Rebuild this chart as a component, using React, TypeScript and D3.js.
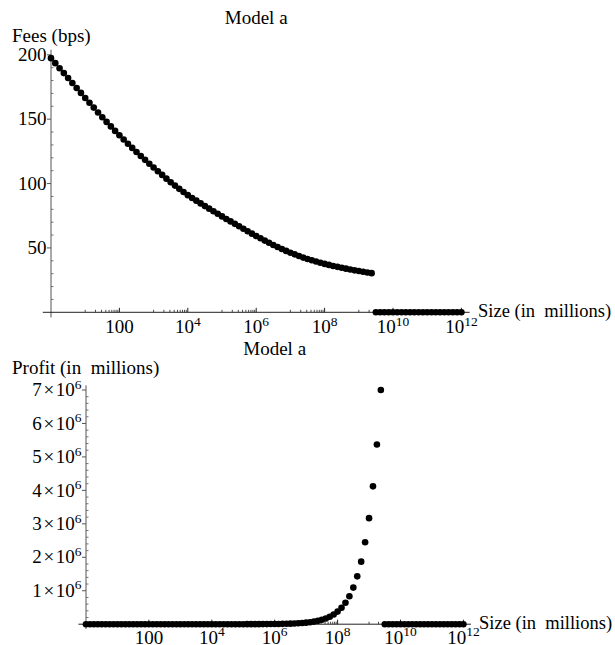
import React from 'react';
import * as d3 from 'd3';

// Fund size grid, as powers of ten (in millions)
const sizeExponents = [
  0, 0.125, 0.25, 0.375, 0.5, 0.625, 0.75, 0.875,
  1, 1.125, 1.25, 1.375, 1.5, 1.625, 1.75, 1.875,
  2, 2.125, 2.25, 2.375, 2.5, 2.625, 2.75, 2.875,
  3, 3.125, 3.25, 3.375, 3.5, 3.625, 3.75, 3.875,
  4, 4.125, 4.25, 4.375, 4.5, 4.625, 4.75, 4.875,
  5, 5.125, 5.25, 5.375, 5.5, 5.625, 5.75, 5.875,
  6, 6.125, 6.25, 6.375, 6.5, 6.625, 6.75, 6.875,
  7, 7.125, 7.25, 7.375, 7.5, 7.625, 7.75, 7.875,
  8, 8.125, 8.25, 8.375, 8.5, 8.625, 8.75, 8.875,
  9, 9.125, 9.25, 9.375, 9.5, 9.625, 9.75, 9.875,
  10, 10.125, 10.25, 10.375, 10.5, 10.625, 10.75, 10.875,
  11, 11.125, 11.25, 11.375, 11.5, 11.625, 11.75, 11.875,
  12,
];

// Fees in basis points at each size
const feesBps = [
  197.4, 193.5, 189.6, 185.8, 182.0, 178.1, 174.2, 170.4,
  166.5, 162.7, 159.0, 155.2, 151.5, 147.9, 144.4, 140.9,
  137.5, 134.2, 130.9, 127.7, 124.5, 121.4, 118.4, 115.4,
  112.5, 109.6, 106.7, 103.8, 101.0, 98.4, 95.9, 93.4,
  91.0, 88.8, 86.7, 84.6, 82.5, 80.5, 78.5, 76.5,
  74.5, 72.5, 70.6, 68.7, 66.8, 64.9, 63.0, 61.1,
  59.3, 57.5, 55.7, 54.0, 52.3, 50.7, 49.2, 47.7,
  46.3, 45.0, 43.7, 42.5, 41.4, 40.4, 39.4, 38.5,
  37.6, 36.8, 36.0, 35.3, 34.6, 33.9, 33.2, 32.6,
  32.1, 31.5, 30.9, 30.4, 0, 0, 0, 0,
  0, 0, 0, 0, 0, 0, 0, 0,
  0, 0, 0, 0, 0, 0, 0, 0,
  0,
];

// Profit in millions at each size
const profitMillions = [
  0.02, 0.03, 0.03, 0.04, 0.06, 0.08, 0.1, 0.13,
  0.17, 0.22, 0.28, 0.37, 0.48, 0.62, 0.81, 1.06,
  1.4, 1.8, 2.3, 3.0, 3.9, 5.1, 6.7, 8.7,
  11, 15, 19, 25, 32, 42, 54, 70,
  91, 118, 154, 201, 261, 339, 441, 574,
  745, 967, 1255, 1629, 2112, 2737, 3543, 4582,
  5930, 7670, 9900, 12800, 16500, 21400, 27700, 35800,
  46300, 60000, 77700, 100800, 131000, 170400, 221500, 288700,
  376000, 491000, 640000, 837000, 1094000, 1430000, 1870000, 2450000,
  3170000, 4120000, 5370000, 7000000, 0, 0, 0, 0,
  0, 0, 0, 0, 0, 0, 0, 0,
  0, 0, 0, 0, 0, 0, 0, 0,
  0,
];

const feeTicks = [50, 100, 150, 200];
const profitTickMultiples = [1, 2, 3, 4, 5, 6, 7];
const sizeLabelExponents = [2, 4, 6, 8, 10, 12];
const sizeMinorDecades = [1, 3, 5, 7, 9, 11];

const chartTitle = 'Model a';
const feeAxisTitle = 'Fees (bps)';
const profitAxisTitle = 'Profit (in  millions)';
const sizeAxisTitle = 'Size (in  millions)';

const FONT = '"Liberation Serif", "Times New Roman", Times, serif';
const FS = 19;
const SUP = 13.5;
const AXIS_X = '#222';
const AXIS_Y = '#555';
const DOT_R = 3.3;

const points = sizeExponents.map((e, i) => ({
  size: Math.pow(10, e),
  fee: feesBps[i],
  profit: profitMillions[i],
}));

function PowerText({ x, y, base, exp, anchor }: { x: number; y: number; base: string; exp?: string; anchor: string }) {
  return (
    <text x={x} y={y} textAnchor={anchor} fontFamily={FONT} fontSize={FS} fill="#000">
      {base}
      {exp !== undefined && (
        <tspan fontSize={SUP} dy={-7.5}>
          {exp}
        </tspan>
      )}
    </text>
  );
}

type PanelProps = {
  xRange: [number, number];
  yDomain: [number, number];
  yRange: [number, number];
  yPad: number;
  values: number[];
  yMajors: number[];
  yMinors: number[];
  yLabel: (v: number) => { base: string; exp?: string };
  title: string;
  titleY: number;
  yTitle: string;
  yTitleY: number;
  xTitleX: number;
  xLabelDy: number;
};

function Panel(p: PanelProps) {
  const x = d3.scaleLog().domain([1, 1e12]).range(p.xRange);
  const y = d3.scaleLinear().domain(p.yDomain).range(p.yRange);
  const ax = x(1);
  const ay = y(0);
  const xLeft = x(Math.pow(10, -0.24));
  const xRight = x(Math.pow(10, 12.24));
  const yTop = y(p.yDomain[1] + p.yPad);
  const yBottom = y(-p.yPad);
  const titleX = (xLeft + xRight) / 2;

  const xMinor: number[] = [];
  sizeMinorDecades.forEach((k) => {
    for (let m = 1; m <= 9; m++) xMinor.push(m * Math.pow(10, k));
  });

  return (
    <g>
      <text x={titleX} y={p.titleY} textAnchor="middle" fontFamily={FONT} fontSize={FS}>
        {p.title}
      </text>
      <text x={12} y={p.yTitleY} fontFamily={FONT} fontSize={FS} style={{ whiteSpace: 'pre' }}>
        {p.yTitle}
      </text>
      <text x={p.xTitleX} y={ay + 4.8} fontFamily={FONT} fontSize={18.5} style={{ whiteSpace: 'pre' }}>
        {sizeAxisTitle}
      </text>

      {/* y axis */}
      <line x1={ax} x2={ax} y1={yTop} y2={yBottom} stroke={AXIS_Y} strokeWidth={1} />
      {p.yMajors.map((v) => (
        <line key={'ym' + v} x1={ax - 4} x2={ax} y1={y(v)} y2={y(v)} stroke={AXIS_Y} strokeWidth={1} />
      ))}
      {p.yMinors.map((v) => (
        <line key={'yn' + v} x1={ax} x2={ax + 2.5} y1={y(v)} y2={y(v)} stroke={AXIS_Y} strokeWidth={0.8} />
      ))}
      {p.yMajors.map((v) => {
        const l = p.yLabel(v);
        return <PowerText key={'yl' + v} x={ax - 4.5} y={y(v) + 6.2} base={l.base} exp={l.exp} anchor="end" />;
      })}

      {/* x axis */}
      <line x1={xLeft} x2={xRight} y1={ay} y2={ay} stroke={AXIS_X} strokeWidth={1} />
      {sizeLabelExponents.map((e) => (
        <line key={'xm' + e} x1={x(Math.pow(10, e))} x2={x(Math.pow(10, e))} y1={ay} y2={ay - 4.5} stroke={AXIS_X} strokeWidth={1} />
      ))}
      {xMinor.map((v, i) => (
        <line key={'xn' + i} x1={x(v)} x2={x(v)} y1={ay} y2={ay - 2.5} stroke={AXIS_X} strokeWidth={0.8} />
      ))}
      {sizeLabelExponents.map((e) => (
        <PowerText
          key={'xl' + e}
          x={x(Math.pow(10, e))}
          y={ay + p.xLabelDy}
          base={e === 2 ? '100' : '10'}
          exp={e === 2 ? undefined : String(e)}
          anchor="middle"
        />
      ))}

      {/* points */}
      {points.map((d, i) => (
        <circle key={'p' + i} cx={x(d.size)} cy={y(p.values[i])} r={DOT_R} fill="#000" />
      ))}
    </g>
  );
}

export default function App() {
  const feeMinors = d3.range(10, 201, 10).filter((v) => v % 50 !== 0);
  const profitMinors = d3.range(1, 36).map((k) => k * 200000).filter((v) => v % 1000000 !== 0);

  return (
    <div style={{ position: 'absolute', left: 0, top: 0 }}>
      <svg width={615} height={645} style={{ display: 'block', background: '#fff' }}>
        <Panel
          xRange={[51, 461.4]}
          yDomain={[0, 200]}
          yRange={[312.3, 54.8]}
          yPad={3.95}
          values={points.map((d) => d.fee)}
          yMajors={feeTicks}
          yMinors={feeMinors}
          yLabel={(v) => ({ base: String(v) })}
          title={chartTitle}
          titleY={24}
          yTitle={feeAxisTitle}
          yTitleY={42}
          xTitleX={478}
          xLabelDy={20.7}
        />
        <Panel
          xRange={[86, 463.4]}
          yDomain={[0, 7000000]}
          yRange={[624.2, 390]}
          yPad={140000}
          values={points.map((d) => d.profit)}
          yMajors={profitTickMultiples.map((k) => k * 1000000)}
          yMinors={profitMinors}
          yLabel={(v) => ({ base: `${v / 1000000}\u200a×\u200a10`, exp: '6' })}
          title={chartTitle}
          titleY={355}
          yTitle={profitAxisTitle}
          yTitleY={374}
          xTitleX={479}
          xLabelDy={19.3}
        />
      </svg>
    </div>
  );
}
